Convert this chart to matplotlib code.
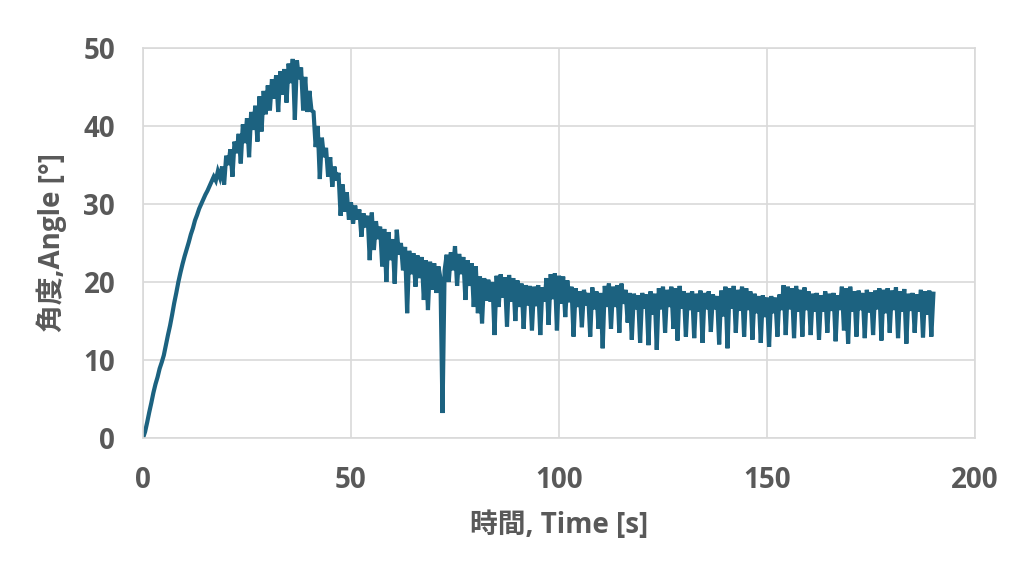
import numpy as np
import matplotlib
matplotlib.use("Agg")
import matplotlib.pyplot as plt

plt.rcParams['font.family'] = ['Open Sans', 'Noto Sans CJK JP', 'DejaVu Sans']

# time stamps every 0.5 s, 0 .. 190 s
time_s = np.arange(0, 190.5, 0.5)

# angle readings [deg], one row per 10 s
angle_deg = [
    0.0, 0.8, 2.0, 3.3, 4.5, 5.8, 6.9, 7.8, 8.9, 9.7, 10.6, 11.9, 13.2, 14.4, 15.8, 17.3, 18.6, 20.0, 21.2, 22.3,
    23.3, 24.2, 25.1, 26.1, 26.9, 27.9, 28.6, 29.4, 30.0, 30.6, 31.2, 31.7, 32.3, 32.9, 33.5, 33.0, 34.2, 33.4, 34.8, 32.5,
    36.2, 35.0, 37.0, 33.5, 38.0, 36.5, 39.0, 35.2, 40.2, 37.8, 41.0, 36.0, 41.8, 39.5, 42.6, 38.0, 43.8, 39.3, 44.5, 41.5,
    45.2, 42.0, 46.0, 43.5, 46.5, 41.8, 47.0, 44.0, 47.3, 43.0, 48.0, 45.5, 48.6, 40.8, 48.4, 46.0, 47.5, 42.0, 46.3, 41.8,
    44.5, 42.0, 41.8, 37.3, 40.0, 33.2, 38.5, 36.0, 37.2, 33.5, 36.0, 32.2, 34.8, 33.0, 34.0, 28.5, 32.5, 29.0, 31.5, 28.0,
    30.2, 27.5, 29.8, 28.0, 29.3, 25.8, 28.8, 27.0, 28.5, 22.8, 28.9, 24.1, 27.8, 25.5, 27.1, 22.0, 26.8, 20.0, 26.4, 22.8,
    25.5, 19.8, 26.7, 23.5, 25.0, 21.5, 24.5, 16.0, 24.0, 21.0, 23.7, 19.4, 23.4, 20.5, 23.2, 17.7, 22.8, 16.4, 22.6, 19.0,
    22.4, 18.6, 22.0, 20.5, 3.2, 21.5, 23.5, 20.0, 23.8, 21.5, 24.6, 19.5, 23.6, 21.0, 23.2, 17.7, 22.8, 19.5, 22.4, 16.8,
    22.0, 16.0, 20.7, 14.7, 20.5, 17.6, 20.3, 17.5, 20.0, 13.2, 20.8, 16.8, 21.0, 18.0, 20.6, 14.3, 20.9, 17.5, 20.5, 15.0,
    20.2, 16.8, 19.8, 14.0, 19.6, 17.0, 19.5, 13.8, 19.4, 16.9, 19.6, 13.2, 19.3, 17.5, 20.5, 14.5, 21.0, 17.8, 21.1, 13.8,
    20.8, 17.2, 20.7, 15.5, 20.2, 17.4, 19.4, 13.0, 19.2, 16.8, 18.8, 14.2, 19.0, 17.0, 18.6, 13.0, 19.3, 16.5, 18.8, 14.0,
    18.6, 11.5, 19.5, 16.8, 19.8, 14.0, 19.4, 16.8, 19.6, 13.5, 19.8, 17.2, 19.0, 14.8, 18.6, 12.6, 18.5, 16.5, 18.3, 12.2,
    18.6, 16.6, 18.4, 11.9, 18.8, 15.8, 18.5, 11.3, 19.2, 16.5, 19.4, 13.5, 19.0, 16.8, 19.4, 14.0, 19.2, 12.5, 19.5, 16.6,
    18.8, 13.0, 18.6, 16.4, 18.8, 12.8, 18.5, 16.2, 18.9, 12.2, 18.6, 16.5, 18.8, 13.6, 18.4, 16.5, 18.2, 12.0, 18.9, 15.6,
    19.4, 11.5, 19.2, 16.6, 19.5, 13.5, 19.0, 16.3, 19.4, 13.0, 19.2, 16.4, 18.8, 12.6, 18.5, 16.0, 18.2, 12.2, 18.3, 15.5,
    18.0, 11.7, 18.2, 16.0, 18.0, 13.0, 18.4, 16.4, 19.6, 13.2, 19.4, 16.5, 19.2, 12.8, 19.5, 16.2, 19.0, 13.0, 19.3, 16.4,
    18.8, 13.2, 18.5, 16.2, 18.6, 12.6, 18.3, 16.2, 18.8, 13.5, 18.5, 16.3, 18.6, 12.4, 18.3, 16.4, 19.4, 13.8, 19.2, 12.1,
    19.4, 16.2, 18.8, 13.0, 18.9, 16.4, 18.6, 12.8, 19.0, 16.1, 18.7, 13.2, 18.9, 16.5, 19.2, 12.5, 19.0, 16.0, 19.2, 13.5,
    18.9, 16.4, 19.3, 12.8, 18.8, 16.2, 19.1, 12.1, 18.5, 16.3, 18.6, 13.5, 18.4, 16.2, 19.0, 12.9, 18.8, 15.8, 18.9, 13.0,
    18.5,
]

x_ticks = [0, 50, 100, 150, 200]
y_ticks = [0, 10, 20, 30, 40, 50]

text_color = "#595959"
grid_color = "#d9d9d9"
line_color = "#1c6280"

fig = plt.figure(figsize=(10.24, 5.76), dpi=100)
ax = fig.add_axes([143 / 1024, 138 / 576, 832 / 1024, 390 / 576])

ax.plot(time_s, angle_deg, color=line_color, linewidth=3.0, solid_joinstyle="miter")

ax.set_xlim(0, 200)
ax.set_ylim(0, 50)
ax.set_xticks(x_ticks)
ax.set_yticks(y_ticks)
ax.grid(True, color=grid_color, linewidth=1.2)
ax.set_axisbelow(True)
for sp in ax.spines.values():
    sp.set_color(grid_color)
    sp.set_linewidth(1.2)

ax.tick_params(length=0, labelsize=20, colors=text_color, pad=20)
for lab in ax.get_xticklabels() + ax.get_yticklabels():
    lab.set_fontweight("bold")

ax.set_xlabel("時間, Time [s]", fontsize=20, fontweight="bold", color=text_color, labelpad=12)
ax.set_ylabel("角度,Angle [°]", fontsize=20, fontweight="bold", color=text_color, labelpad=12)

fig.savefig("out.png", dpi=100)
